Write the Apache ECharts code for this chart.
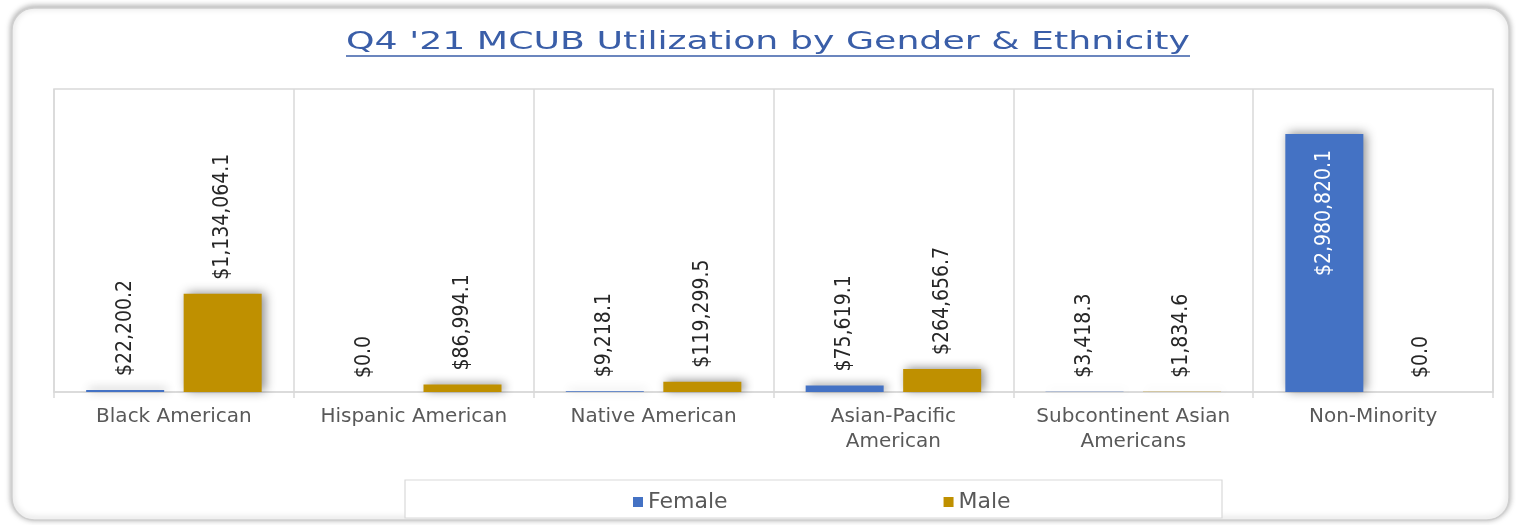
<!DOCTYPE html>
<html><head><meta charset="utf-8">
<script src="https://cdn.jsdelivr.net/npm/echarts@6/dist/echarts.min.js"></script>
<style>html,body{margin:0;padding:0;background:#fff}#c{width:1516px;height:525px}</style>
</head><body><div id="c"></div>
<script>
const categories = ['Black American','Hispanic American','Native American','Asian-Pacific\nAmerican','Subcontinent Asian\nAmericans','Non-Minority'];
const female = [22200.2, 0.0, 9218.1, 75619.1, 3418.3, 2980820.1];
const male = [1134064.1, 86994.1, 119299.5, 264656.7, 1834.6, 0.0];
const seriesNames = ['Female','Male'];
const titleText = "Q4 '21 MCUB Utilization by Gender & Ethnicity";

const titleFont = '25px "DejaVu Sans"';
const cv = document.createElement('canvas').getContext('2d');
cv.font = titleFont;
const tw = cv.measureText(titleText).width;
const targetW = 844;
const sx = targetW / tw;

function fmt(v){
  return '$' + v.toLocaleString('en-US',{minimumFractionDigits:1,maximumFractionDigits:1});
}
const labelFont = {fontFamily:'"Liberation Sans Narrow","DejaVu Sans Condensed",sans-serif', fontSize:21, color:'#262626'};
const shadow = {shadowBlur:10, shadowColor:'rgba(0,0,0,0.45)', shadowOffsetX:3, shadowOffsetY:-1};

const chart = echarts.init(document.getElementById('c'), null, {renderer:'canvas'});
chart.setOption({
  animation:false,
  graphic:[
    {type:'rect', z:-10, shape:{x:12,y:8,width:1497,height:512,r:22}, style:{fill:'#fff',stroke:'#cfcfcf',lineWidth:1.5,shadowBlur:6,shadowColor:'rgba(0,0,0,0.35)',shadowOffsetY:-1}},
    {type:'text', x:768, y:30, scaleX:sx, originX:0, style:{text:titleText, font:titleFont, fill:'#3a5ea8', textAlign:'center', textVerticalAlign:'top'}},
    {type:'line', shape:{x1:768-targetW/2, y1:56, x2:768+targetW/2, y2:56}, style:{stroke:'#3a5ea8', lineWidth:1.5}},
    {type:'rect', z:-1, shape:{x:405,y:480,width:817,height:38}, style:{fill:'#fff',stroke:'#d9d9d9',lineWidth:1.2}}
  ],
  grid:{left:54,right:23,top:89,bottom:133,show:true,borderColor:'#d9d9d9',borderWidth:1.5},
  legend:{left:628, top:486, itemWidth:10, itemHeight:10, itemGap:216, icon:'rect',
    textStyle:{fontFamily:'"DejaVu Sans"',fontSize:22,color:'#595959'}, data:seriesNames},
  xAxis:{type:'category', data:categories,
    axisLine:{lineStyle:{color:'#d9d9d9',width:1.5}},
    axisTick:{show:true,length:6,lineStyle:{color:'#d9d9d9',width:1.5}},
    splitLine:{show:true,lineStyle:{color:'#d9d9d9',width:1.5}},
    axisLabel:{interval:0, margin:12, fontFamily:'"DejaVu Sans"', fontSize:20, color:'#595959', lineHeight:25}},
  yAxis:{type:'value', min:0, max:3500000, show:false, splitLine:{show:false}},
  series:[
    {name:seriesNames[0], type:'bar', barWidth:78, barGap:'25%',
     data:female.map((v,i)=> i===5 ? {value:v, label:{position:'insideTop', align:'right', distance:16, color:'#ffffff'}} : v),
     itemStyle:Object.assign({color:'#4472c4'},shadow),
     label:{show:true, position:'top', rotate:90, align:'left', verticalAlign:'middle', distance:14, formatter:p=>fmt(p.value), ...labelFont}},
    {name:seriesNames[1], type:'bar', data:male, barWidth:78,
     itemStyle:Object.assign({color:'#bf9000'},shadow),
     label:{show:true, position:'top', rotate:90, align:'left', verticalAlign:'middle', distance:14, formatter:p=>fmt(p.value), ...labelFont}}
  ]
});
</script></body></html>
